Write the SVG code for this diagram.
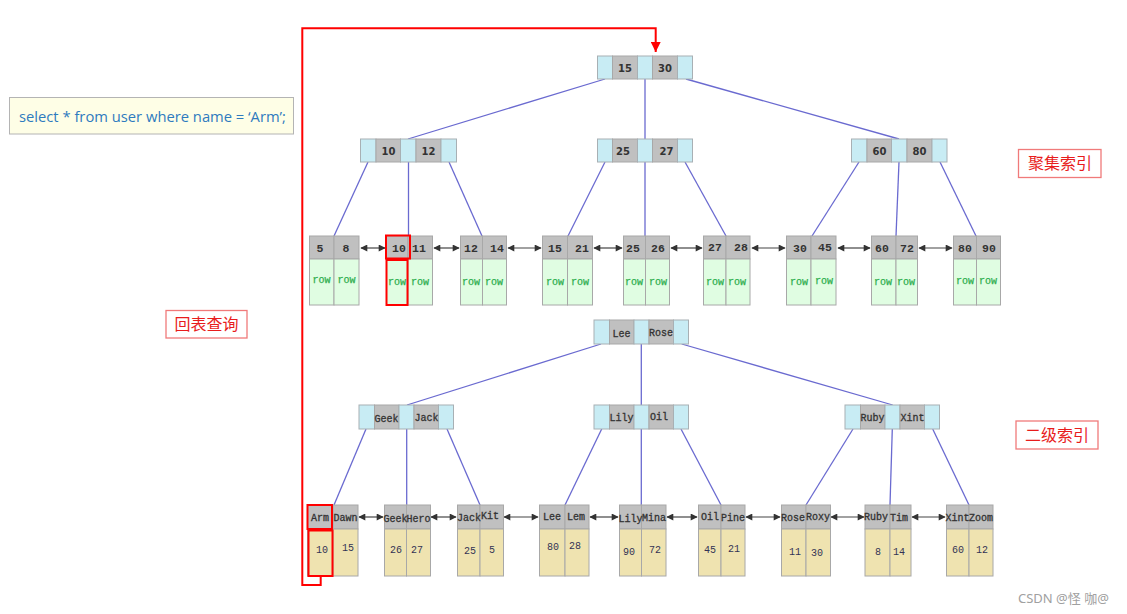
<svg xmlns="http://www.w3.org/2000/svg" width="1127" height="614" viewBox="0 0 1127 614">
<style>
.cy{fill:#c8ecf4;stroke:#a8b0b4;stroke-width:1}
.gr{fill:#c0c0c0;stroke:#a8a8a8;stroke-width:1}
.rw{fill:#e0fde2;stroke:#a8a8a8;stroke-width:1}
.vl{fill:#efe3b0;stroke:#a8a8a8;stroke-width:1}
.ink{stroke:#6a6ad0;stroke-width:1.3;fill:none}
.dbl{stroke:#444;stroke-width:1.2;fill:none;marker-start:url(#ah);marker-end:url(#ah)}
.red{stroke:#f00;stroke-width:2;fill:none}
.tn{font-family:"DejaVu Sans",sans-serif;font-weight:bold;font-size:10px;fill:#333;text-anchor:middle}
.lk{font-family:"Liberation Mono",monospace;font-weight:bold;font-size:11.5px;fill:#333;text-anchor:middle}
.row{font-family:"Liberation Mono",monospace;font-size:10px;fill:#2fae4f;stroke:#2fae4f;stroke-width:0.25;text-anchor:middle}
.bn{font-family:"Liberation Mono",monospace;font-size:10px;fill:#333;stroke:#333;stroke-width:0.3;text-anchor:middle}
.bv{font-family:"Liberation Mono",monospace;font-size:10px;fill:#335;text-anchor:middle}
.lab{font-family:"Noto Sans CJK SC",sans-serif;font-size:16px;fill:#e81c1c;text-anchor:middle}
.labbox{fill:#fff;stroke:#f07a7a;stroke-width:1.3}
</style>
<defs>
<marker id="ah" viewBox="0 0 10 10" refX="9" refY="5" markerWidth="8" markerHeight="7" markerUnits="userSpaceOnUse" orient="auto-start-reverse"><path d="M0,0 L10,5 L0,10 z" fill="#333"/></marker>
<marker id="rh" viewBox="0 0 10 10" refX="10" refY="5" markerWidth="10" markerHeight="10" markerUnits="userSpaceOnUse" orient="auto"><path d="M0,0 L10,5 L0,10 z" fill="#f00"/></marker>
</defs>
<rect width="1127" height="614" fill="#fff"/>

<g id="sql">
<rect x="9.5" y="97.5" width="284" height="36.5" fill="#fefee6" stroke="#b4b4b4" stroke-width="1"/>
<text x="19" y="122" font-family="'Open Sans',sans-serif" font-size="15" fill="#2e7bbf" textLength="267" lengthAdjust="spacingAndGlyphs">select * from user where name = ‘Arm’;</text>
</g>
<g id="lab-cluster"><rect class="labbox" x="1018.5" y="149.5" width="82.5" height="28"/><text class="lab" x="1060" y="169">聚集索引</text></g>
<g id="lab-secondary"><rect class="labbox" x="1016" y="421" width="82" height="28"/><text class="lab" x="1057" y="441">二级索引</text></g>
<g id="lab-back"><rect class="labbox" x="166" y="310.5" width="81" height="27.5"/><text class="lab" x="206.5" y="330">回表查询</text></g>

<g id="connectors">
<line class="ink" x1="605" y1="79" x2="408" y2="139"/>
<line class="ink" x1="645" y1="79" x2="645" y2="139"/>
<line class="ink" x1="686" y1="79" x2="899" y2="139"/>
<line class="ink" x1="368" y1="162" x2="334" y2="236"/>
<line class="ink" x1="408.5" y1="162" x2="408.5" y2="236"/>
<line class="ink" x1="449" y1="162" x2="482" y2="236"/>
<line class="ink" x1="605" y1="162" x2="568" y2="236"/>
<line class="ink" x1="645" y1="162" x2="645" y2="236"/>
<line class="ink" x1="685" y1="162" x2="726" y2="236"/>
<line class="ink" x1="859" y1="162" x2="812" y2="236"/>
<line class="ink" x1="899" y1="162" x2="896" y2="236"/>
<line class="ink" x1="940" y1="162" x2="976" y2="236"/>
<line class="ink" x1="601" y1="344" x2="407" y2="405"/>
<line class="ink" x1="641.3" y1="344" x2="641.3" y2="405"/>
<line class="ink" x1="681.7" y1="344" x2="892.7" y2="405"/>
<line class="ink" x1="366" y1="429" x2="334" y2="505"/>
<line class="ink" x1="406.7" y1="429" x2="406.7" y2="505"/>
<line class="ink" x1="447" y1="429" x2="480" y2="505"/>
<line class="ink" x1="601.7" y1="429" x2="565" y2="505"/>
<line class="ink" x1="641.3" y1="429" x2="641.3" y2="505"/>
<line class="ink" x1="681" y1="429" x2="721" y2="505"/>
<line class="ink" x1="853" y1="429" x2="806" y2="505"/>
<line class="ink" x1="892.3" y1="429" x2="890" y2="505"/>
<line class="ink" x1="932.7" y1="429" x2="969" y2="505"/>
<line class="dbl" x1="361" y1="248" x2="385" y2="248"/>
<line class="dbl" x1="434" y1="248" x2="459" y2="248"/>
<line class="dbl" x1="508" y1="248" x2="541" y2="248"/>
<line class="dbl" x1="594" y1="248" x2="622" y2="248"/>
<line class="dbl" x1="671" y1="248" x2="702" y2="248"/>
<line class="dbl" x1="752" y1="248" x2="785" y2="248"/>
<line class="dbl" x1="838" y1="248" x2="870" y2="248"/>
<line class="dbl" x1="919" y1="248" x2="952" y2="248"/>
<line class="dbl" x1="359" y1="517" x2="383" y2="517"/>
<line class="dbl" x1="431" y1="517" x2="456" y2="517"/>
<line class="dbl" x1="504" y1="517" x2="538" y2="517"/>
<line class="dbl" x1="590" y1="517" x2="618" y2="517"/>
<line class="dbl" x1="667" y1="517" x2="697" y2="517"/>
<line class="dbl" x1="746" y1="517" x2="780" y2="517"/>
<line class="dbl" x1="831" y1="517" x2="864" y2="517"/>
<line class="dbl" x1="912" y1="517" x2="945" y2="517"/>
<path class="red" d="M320.7,576 V585 H302.3 V28.3 H655.7 V52" marker-end="url(#rh)"/>
</g>

<g id="c-root" transform="translate(597.5,56)">
<rect class="cy" x="0" y="0" width="15" height="23"/><rect class="gr" x="15" y="0" width="25" height="23"/><rect class="cy" x="40" y="0" width="15" height="23"/><rect class="gr" x="55" y="0" width="25" height="23"/><rect class="cy" x="80" y="0" width="15" height="23"/>
<text class="tn" x="27.5" y="15.5">15</text><text class="tn" x="67.5" y="15.5">30</text></g>
<g id="c-n1" transform="translate(360.5,139)">
<rect class="cy" x="0" y="0" width="15.5" height="23"/><rect class="gr" x="15.5" y="0" width="24.5" height="23"/><rect class="cy" x="40" y="0" width="15.5" height="23"/><rect class="gr" x="55.5" y="0" width="25" height="23"/><rect class="cy" x="80.5" y="0" width="15.5" height="23"/>
<text class="tn" x="28" y="15.5">10</text><text class="tn" x="68" y="15.5">12</text></g>
<g id="c-n2" transform="translate(597.5,139)">
<rect class="cy" x="0" y="0" width="15" height="23"/><rect class="gr" x="15" y="0" width="25" height="23"/><rect class="cy" x="40" y="0" width="15" height="23"/><rect class="gr" x="55" y="0" width="25" height="23"/><rect class="cy" x="80" y="0" width="15" height="23"/>
<text class="tn" x="25.5" y="15.5">25</text><text class="tn" x="69" y="15.5">27</text></g>
<g id="c-n3" transform="translate(851.5,139)">
<rect class="cy" x="0" y="0" width="15.5" height="23"/><rect class="gr" x="15.5" y="0" width="24.5" height="23"/><rect class="cy" x="40" y="0" width="15.5" height="23"/><rect class="gr" x="55.5" y="0" width="25" height="23"/><rect class="cy" x="80.5" y="0" width="15" height="23"/>
<text class="tn" x="28" y="15.5">60</text><text class="tn" x="68" y="15.5">80</text></g>

<g id="c-l1"><rect class="gr" x="309.5" y="236" width="24.5" height="23"/><rect class="gr" x="334" y="236" width="25" height="23"/><rect class="rw" x="309.5" y="259" width="24.5" height="46"/><rect class="rw" x="334" y="259" width="25" height="46"/>
<text class="lk" x="320" y="252">5</text><text class="lk" x="346" y="252">8</text><text class="row" x="321.5" y="283">row</text><text class="row" x="346.5" y="283">row</text></g>
<g id="c-l2"><rect class="gr" x="386.5" y="236" width="21.5" height="23"/><rect class="gr" x="408" y="236" width="24.5" height="23"/><rect class="rw" x="386.5" y="259" width="21.5" height="46"/><rect class="rw" x="408" y="259" width="24.5" height="46"/>
<text class="lk" x="399" y="252">10</text><text class="lk" x="419" y="252">11</text><text class="row" x="397" y="285">row</text><text class="row" x="420" y="285">row</text>
<rect class="red" x="386" y="235.5" width="24" height="23"/><rect class="red" x="386.5" y="260" width="21" height="45"/></g>
<g id="c-l3"><rect class="gr" x="460.5" y="236" width="22" height="23"/><rect class="gr" x="482.5" y="236" width="24" height="23"/><rect class="rw" x="460.5" y="259" width="22" height="46"/><rect class="rw" x="482.5" y="259" width="24" height="46"/>
<text class="lk" x="471" y="252">12</text><text class="lk" x="497" y="252">14</text><text class="row" x="471" y="285">row</text><text class="row" x="494" y="285">row</text></g>
<g id="c-l4"><rect class="gr" x="542.5" y="236" width="25" height="23"/><rect class="gr" x="567.5" y="236" width="25" height="23"/><rect class="rw" x="542.5" y="259" width="25" height="46"/><rect class="rw" x="567.5" y="259" width="25" height="46"/>
<text class="lk" x="555" y="252">15</text><text class="lk" x="582" y="252">21</text><text class="row" x="555" y="285">row</text><text class="row" x="580" y="285">row</text></g>
<g id="c-l5"><rect class="gr" x="623.5" y="236" width="22" height="23"/><rect class="gr" x="645.5" y="236" width="24" height="23"/><rect class="rw" x="623.5" y="259" width="22" height="46"/><rect class="rw" x="645.5" y="259" width="24" height="46"/>
<text class="lk" x="633" y="252">25</text><text class="lk" x="658" y="252">26</text><text class="row" x="634" y="285">row</text><text class="row" x="658" y="285">row</text></g>
<g id="c-l6"><rect class="gr" x="703.5" y="236" width="22.5" height="23"/><rect class="gr" x="726" y="236" width="24" height="23"/><rect class="rw" x="703.5" y="259" width="22.5" height="46"/><rect class="rw" x="726" y="259" width="24" height="46"/>
<text class="lk" x="715" y="251">27</text><text class="lk" x="741" y="251">28</text><text class="row" x="715" y="285">row</text><text class="row" x="737" y="285">row</text></g>
<g id="c-l7"><rect class="gr" x="786.5" y="236" width="24.5" height="23"/><rect class="gr" x="811" y="236" width="25" height="23"/><rect class="rw" x="786.5" y="259" width="24.5" height="46"/><rect class="rw" x="811" y="259" width="25" height="46"/>
<text class="lk" x="800" y="252">30</text><text class="lk" x="825" y="251">45</text><text class="row" x="799" y="285">row</text><text class="row" x="824" y="284">row</text></g>
<g id="c-l8"><rect class="gr" x="871.5" y="236" width="24.5" height="23"/><rect class="gr" x="896" y="236" width="21.5" height="23"/><rect class="rw" x="871.5" y="259" width="24.5" height="46"/><rect class="rw" x="896" y="259" width="21.5" height="46"/>
<text class="lk" x="882" y="252">60</text><text class="lk" x="907" y="252">72</text><text class="row" x="883" y="285">row</text><text class="row" x="906" y="285">row</text></g>
<g id="c-l9"><rect class="gr" x="953.5" y="236" width="23" height="23"/><rect class="gr" x="976.5" y="236" width="24" height="23"/><rect class="rw" x="953.5" y="259" width="23" height="46"/><rect class="rw" x="976.5" y="259" width="24" height="46"/>
<text class="lk" x="965" y="252">80</text><text class="lk" x="989" y="252">90</text><text class="row" x="965" y="284">row</text><text class="row" x="988" y="284">row</text></g>

<g id="s-root" transform="translate(594,320)">
<rect class="cy" x="0" y="0" width="15.5" height="24"/><rect class="gr" x="15.5" y="0" width="24.5" height="24"/><rect class="cy" x="40" y="0" width="15" height="24"/><rect class="gr" x="55" y="0" width="24.5" height="24"/><rect class="cy" x="79.5" y="0" width="15" height="24"/>
<text class="bn" x="27.5" y="17">Lee</text><text class="bn" x="67" y="15.5">Rose</text></g>
<g id="s-n1" transform="translate(359,405)">
<rect class="cy" x="0" y="0" width="15.5" height="24"/><rect class="gr" x="15.5" y="0" width="24.5" height="24"/><rect class="cy" x="40" y="0" width="15" height="24"/><rect class="gr" x="55" y="0" width="24.5" height="24"/><rect class="cy" x="79.5" y="0" width="15" height="24"/>
<text class="bn" x="27.5" y="16.5">Geek</text><text class="bn" x="67.5" y="16">Jack</text></g>
<g id="s-n2" transform="translate(594,405)">
<rect class="cy" x="0" y="0" width="15.5" height="24"/><rect class="gr" x="15.5" y="0" width="24.5" height="24"/><rect class="cy" x="40" y="0" width="15" height="24"/><rect class="gr" x="55" y="0" width="24.5" height="24"/><rect class="cy" x="79.5" y="0" width="15" height="24"/>
<text class="bn" x="27.5" y="16">Lily</text><text class="bn" x="65" y="14.5">Oil</text></g>
<g id="s-n3" transform="translate(845,405)">
<rect class="cy" x="0" y="0" width="15.5" height="24"/><rect class="gr" x="15.5" y="0" width="24.5" height="24"/><rect class="cy" x="40" y="0" width="15" height="24"/><rect class="gr" x="55" y="0" width="24.5" height="24"/><rect class="cy" x="79.5" y="0" width="15" height="24"/>
<text class="bn" x="27.5" y="16">Ruby</text><text class="bn" x="67.5" y="16">Xint</text></g>

<g id="s-l1"><rect class="gr" x="307.5" y="505" width="25.5" height="24"/><rect class="gr" x="333" y="505" width="25" height="24"/><rect class="vl" x="307.5" y="529" width="25.5" height="47"/><rect class="vl" x="333" y="529" width="25" height="47"/>
<text class="bn" x="320" y="521">Arm</text><text class="bn" x="345.5" y="521">Dawn</text><text class="bv" x="322" y="553">10</text><text class="bv" x="348" y="551">15</text>
<rect class="red" x="307.5" y="505" width="24.5" height="24"/><rect class="red" x="308.5" y="530.5" width="24" height="45.5"/></g>
<g id="s-l2"><rect class="gr" x="384.5" y="505" width="22" height="24"/><rect class="gr" x="406.5" y="505" width="24" height="24"/><rect class="vl" x="384.5" y="529" width="22" height="47"/><rect class="vl" x="406.5" y="529" width="24" height="47"/>
<text class="bn" x="395.5" y="522">Geek</text><text class="bn" x="418.5" y="522">Hero</text><text class="bv" x="396" y="553">26</text><text class="bv" x="417" y="553">27</text></g>
<g id="s-l3"><rect class="gr" x="457.5" y="505" width="22.5" height="24"/><rect class="gr" x="480" y="505" width="23.5" height="24"/><rect class="vl" x="457.5" y="529" width="22.5" height="47"/><rect class="vl" x="480" y="529" width="23.5" height="47"/>
<text class="bn" x="469" y="521">Jack</text><text class="bn" x="490" y="519">Kit</text><text class="bv" x="470" y="554">25</text><text class="bv" x="492" y="553">5</text></g>
<g id="s-l4"><rect class="gr" x="539.5" y="505" width="25.5" height="24"/><rect class="gr" x="565" y="505" width="24" height="24"/><rect class="vl" x="539.5" y="529" width="25.5" height="47"/><rect class="vl" x="565" y="529" width="24" height="47"/>
<text class="bn" x="552" y="520">Lee</text><text class="bn" x="576" y="520">Lem</text><text class="bv" x="553" y="550">80</text><text class="bv" x="575" y="549">28</text></g>
<g id="s-l5"><rect class="gr" x="619.5" y="505" width="22" height="24"/><rect class="gr" x="641.5" y="505" width="24.5" height="24"/><rect class="vl" x="619.5" y="529" width="22" height="47"/><rect class="vl" x="641.5" y="529" width="24.5" height="47"/>
<text class="bn" x="630.5" y="522">Lily</text><text class="bn" x="654" y="521">Mina</text><text class="bv" x="629" y="555">90</text><text class="bv" x="655" y="553">72</text></g>
<g id="s-l6"><rect class="gr" x="698.5" y="505" width="22.5" height="24"/><rect class="gr" x="721" y="505" width="24" height="24"/><rect class="vl" x="698.5" y="529" width="22.5" height="47"/><rect class="vl" x="721" y="529" width="24" height="47"/>
<text class="bn" x="710" y="520">Oil</text><text class="bn" x="733" y="521">Pine</text><text class="bv" x="710" y="553">45</text><text class="bv" x="734" y="552">21</text></g>
<g id="s-l7"><rect class="gr" x="781.5" y="505" width="24.5" height="24"/><rect class="gr" x="806" y="505" width="24.5" height="24"/><rect class="vl" x="781.5" y="529" width="24.5" height="47"/><rect class="vl" x="806" y="529" width="24.5" height="47"/>
<text class="bn" x="793" y="521">Rose</text><text class="bn" x="818" y="520">Roxy</text><text class="bv" x="795" y="555">11</text><text class="bv" x="817" y="556">30</text></g>
<g id="s-l8"><rect class="gr" x="865" y="505" width="25" height="24"/><rect class="gr" x="890" y="505" width="21" height="24"/><rect class="vl" x="865" y="529" width="25" height="47"/><rect class="vl" x="890" y="529" width="21" height="47"/>
<text class="bn" x="876" y="520">Ruby</text><text class="bn" x="899" y="521">Tim</text><text class="bv" x="878" y="555">8</text><text class="bv" x="899" y="555">14</text></g>
<g id="s-l9"><rect class="gr" x="946.5" y="505" width="22.5" height="24"/><rect class="gr" x="969" y="505" width="24" height="24"/><rect class="vl" x="946.5" y="529" width="22.5" height="47"/><rect class="vl" x="969" y="529" width="24" height="47"/>
<text class="bn" x="957.5" y="521">Xint</text><text class="bn" x="981" y="521">Zoom</text><text class="bv" x="958" y="553">60</text><text class="bv" x="982" y="553">12</text></g>

<text x="1018" y="603" font-family="'Noto Sans','Noto Sans CJK SC',sans-serif" font-size="13" fill="#a0a0a0">CSDN @怪 咖@</text>
</svg>
